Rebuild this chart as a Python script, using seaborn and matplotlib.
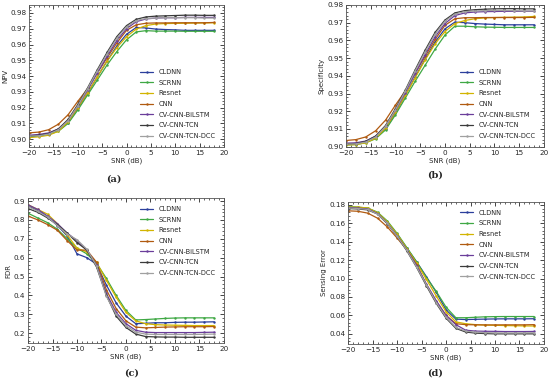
import numpy as np
import pandas as pd
import seaborn as sns
import matplotlib
matplotlib.use('Agg')
import matplotlib.pyplot as plt
from matplotlib.ticker import AutoMinorLocator

# data
snr = list(range(-20, 20, 2))
models = ['CLDNN', 'SCRNN', 'Resnet', 'CNN', 'CV-CNN-BiLSTM', 'CV-CNN-TCN', 'CV-CNN-TCN-DCC']
colors = ['#2b3f9c', '#3fa844', '#d2b400', '#b05a10', '#6a3d9a', '#3a3a3a', '#a0a0a0']

npv = {
    'CLDNN': [0.9020, 0.9025, 0.9035, 0.9055, 0.9105, 0.9195, 0.9290, 0.9395, 0.9495, 0.9590, 0.9665, 0.9708, 0.9705, 0.9698, 0.9695, 0.9693, 0.9690, 0.9690, 0.9690, 0.9690],
    'SCRNN': [0.9015, 0.9020, 0.9030, 0.9050, 0.9100, 0.9185, 0.9280, 0.9375, 0.9470, 0.9555, 0.9630, 0.9680, 0.9688, 0.9685, 0.9685, 0.9685, 0.9684, 0.9684, 0.9684, 0.9684],
    'Resnet': [0.9010, 0.9015, 0.9025, 0.9050, 0.9110, 0.9200, 0.9295, 0.9395, 0.9495, 0.9580, 0.9650, 0.9698, 0.9720, 0.9730, 0.9733, 0.9734, 0.9735, 0.9736, 0.9737, 0.9738],
    'CNN': [0.9040, 0.9045, 0.9060, 0.9095, 0.9155, 0.9240, 0.9320, 0.9420, 0.9515, 0.9610, 0.9690, 0.9725, 0.9735, 0.9737, 0.9737, 0.9738, 0.9738, 0.9738, 0.9738, 0.9740],
    'CV-CNN-BiLSTM': [0.9025, 0.9030, 0.9040, 0.9065, 0.9120, 0.9210, 0.9310, 0.9420, 0.9525, 0.9625, 0.9700, 0.9745, 0.9762, 0.9768, 0.9770, 0.9770, 0.9772, 0.9772, 0.9772, 0.9772],
    'CV-CNN-TCN': [0.9020, 0.9025, 0.9035, 0.9065, 0.9125, 0.9220, 0.9325, 0.9440, 0.9550, 0.9650, 0.9720, 0.9760, 0.9775, 0.9780, 0.9782, 0.9784, 0.9786, 0.9786, 0.9785, 0.9785],
    'CV-CNN-TCN-DCC': [0.9020, 0.9022, 0.9032, 0.9060, 0.9118, 0.9212, 0.9320, 0.9432, 0.9540, 0.9640, 0.9712, 0.9752, 0.9765, 0.9768, 0.9770, 0.9770, 0.9770, 0.9770, 0.9768, 0.9768],
}

spec = {
    'CLDNN': [0.9015, 0.9018, 0.9028, 0.9050, 0.9100, 0.9190, 0.9290, 0.9395, 0.9495, 0.9590, 0.9665, 0.9703, 0.9700, 0.9695, 0.9692, 0.9690, 0.9688, 0.9688, 0.9688, 0.9688],
    'SCRNN': [0.9010, 0.9012, 0.9022, 0.9045, 0.9095, 0.9180, 0.9275, 0.9370, 0.9460, 0.9550, 0.9630, 0.9680, 0.9680, 0.9677, 0.9675, 0.9674, 0.9673, 0.9673, 0.9673, 0.9673],
    'Resnet': [0.9010, 0.9012, 0.9022, 0.9048, 0.9105, 0.9195, 0.9290, 0.9390, 0.9490, 0.9580, 0.9650, 0.9695, 0.9712, 0.9722, 0.9727, 0.9729, 0.9730, 0.9731, 0.9732, 0.9735],
    'CNN': [0.9035, 0.9040, 0.9055, 0.9090, 0.9150, 0.9235, 0.9315, 0.9415, 0.9510, 0.9605, 0.9685, 0.9722, 0.9728, 0.9728, 0.9729, 0.9729, 0.9729, 0.9729, 0.9729, 0.9730],
    'CV-CNN-BiLSTM': [0.9020, 0.9022, 0.9032, 0.9060, 0.9115, 0.9205, 0.9305, 0.9415, 0.9520, 0.9620, 0.9695, 0.9740, 0.9755, 0.9760, 0.9762, 0.9763, 0.9764, 0.9764, 0.9764, 0.9764],
    'CV-CNN-TCN': [0.9015, 0.9018, 0.9030, 0.9060, 0.9120, 0.9215, 0.9320, 0.9435, 0.9545, 0.9645, 0.9715, 0.9755, 0.9768, 0.9773, 0.9776, 0.9778, 0.9779, 0.9779, 0.9778, 0.9778],
    'CV-CNN-TCN-DCC': [0.9015, 0.9016, 0.9026, 0.9055, 0.9115, 0.9208, 0.9315, 0.9428, 0.9535, 0.9635, 0.9708, 0.9748, 0.9762, 0.9766, 0.9768, 0.9769, 0.9769, 0.9768, 0.9766, 0.9766],
}

fdr = {
    'CLDNN': [0.875, 0.850, 0.815, 0.770, 0.715, 0.620, 0.600, 0.565, 0.455, 0.360, 0.290, 0.250, 0.252, 0.255, 0.255, 0.257, 0.258, 0.258, 0.259, 0.260],
    'SCRNN': [0.835, 0.810, 0.785, 0.750, 0.700, 0.650, 0.620, 0.570, 0.490, 0.400, 0.320, 0.270, 0.272, 0.275, 0.278, 0.280, 0.281, 0.281, 0.281, 0.281],
    'Resnet': [0.880, 0.855, 0.830, 0.780, 0.720, 0.650, 0.630, 0.575, 0.480, 0.390, 0.310, 0.265, 0.250, 0.245, 0.243, 0.242, 0.241, 0.240, 0.240, 0.240],
    'CNN': [0.820, 0.800, 0.775, 0.745, 0.690, 0.640, 0.640, 0.575, 0.430, 0.330, 0.265, 0.232, 0.228, 0.230, 0.232, 0.233, 0.234, 0.234, 0.234, 0.235],
    'CV-CNN-BiLSTM': [0.880, 0.855, 0.820, 0.780, 0.730, 0.690, 0.640, 0.560, 0.410, 0.310, 0.250, 0.215, 0.205, 0.203, 0.203, 0.203, 0.203, 0.203, 0.204, 0.205],
    'CV-CNN-TCN': [0.860, 0.840, 0.810, 0.775, 0.730, 0.680, 0.640, 0.550, 0.400, 0.290, 0.230, 0.195, 0.182, 0.180, 0.179, 0.179, 0.178, 0.178, 0.178, 0.178],
    'CV-CNN-TCN-DCC': [0.870, 0.845, 0.815, 0.770, 0.725, 0.695, 0.645, 0.555, 0.395, 0.300, 0.240, 0.205, 0.195, 0.193, 0.193, 0.193, 0.193, 0.193, 0.194, 0.195],
}

serr = {
    'CLDNN': [0.1775, 0.1770, 0.1760, 0.1710, 0.1610, 0.1480, 0.1330, 0.1180, 0.1020, 0.0850, 0.0660, 0.0560, 0.0555, 0.0558, 0.0560, 0.0562, 0.0563, 0.0563, 0.0563, 0.0564],
    'SCRNN': [0.1780, 0.1775, 0.1765, 0.1720, 0.1625, 0.1490, 0.1335, 0.1180, 0.1010, 0.0860, 0.0690, 0.0575, 0.0575, 0.0580, 0.0585, 0.0587, 0.0588, 0.0588, 0.0588, 0.0588],
    'Resnet': [0.1775, 0.1775, 0.1765, 0.1715, 0.1615, 0.1480, 0.1325, 0.1165, 0.0990, 0.0810, 0.0640, 0.0530, 0.0510, 0.0500, 0.0495, 0.0493, 0.0490, 0.0488, 0.0486, 0.0485],
    'CNN': [0.1735, 0.1730, 0.1710, 0.1655, 0.1560, 0.1440, 0.1310, 0.1150, 0.0930, 0.0750, 0.0600, 0.0510, 0.0500, 0.0498, 0.0497, 0.0497, 0.0498, 0.0498, 0.0498, 0.0500],
    'CV-CNN-BiLSTM': [0.1770, 0.1765, 0.1755, 0.1705, 0.1600, 0.1465, 0.1310, 0.1140, 0.0940, 0.0760, 0.0600, 0.0500, 0.0440, 0.0430, 0.0428, 0.0427, 0.0425, 0.0425, 0.0425, 0.0426],
    'CV-CNN-TCN': [0.1760, 0.1755, 0.1745, 0.1700, 0.1595, 0.1460, 0.1300, 0.1120, 0.0920, 0.0730, 0.0570, 0.0460, 0.0420, 0.0408, 0.0403, 0.0400, 0.0400, 0.0400, 0.0400, 0.0400],
    'CV-CNN-TCN-DCC': [0.1765, 0.1760, 0.1750, 0.1700, 0.1600, 0.1460, 0.1305, 0.1125, 0.0930, 0.0740, 0.0580, 0.0470, 0.0430, 0.0418, 0.0413, 0.0411, 0.0410, 0.0410, 0.0411, 0.0412],
}

sns.set_style('ticks')
plt.rcParams['font.family'] = ['DejaVu Sans']

def to_long(d, name):
    rows = []
    for m in models:
        for x, v in zip(snr, d[m]):
            rows.append({'SNR': x, name: v, 'Model': m})
    return pd.DataFrame(rows)

fig = plt.figure(figsize=(5.5, 3.8), dpi=100)

panels = [
    (npv, 'NPV', [0.053, 0.613, 0.354, 0.374], (0.895, 0.9851), np.arange(0.90, 0.981, 0.01), '{:.2f}', 'lower right', '(a)', (0.207, 0.516)),
    (spec, 'Specificity', [0.629, 0.613, 0.36, 0.374], (0.8998, 0.980), np.arange(0.90, 0.981, 0.01), '{:.2f}', 'lower right', '(b)', (0.791, 0.528)),
    (fdr, 'FDR', [0.051, 0.097, 0.356, 0.382], (0.147, 0.916), np.arange(0.2, 0.91, 0.1), '{:.1f}', 'upper right', '(c)', (0.24, 0.006)),
    (serr, 'Sensing Error', [0.633, 0.095, 0.356, 0.374], (0.0291, 0.1833), np.arange(0.04, 0.181, 0.02), '{:.2f}', 'upper right', '(d)', (0.791, 0.006)),
]

for d, name, pos, ylim, yticks, fmt, loc, tag, tagpos in panels:
    ax = fig.add_axes(pos)
    df = to_long(d, name)
    sns.lineplot(data=df, x='SNR', y=name, hue='Model', palette=colors,
                 marker='.', markersize=3.5, markeredgewidth=0, linewidth=0.9, ax=ax)
    ax.set_xlim(-20, 20)
    ax.set_ylim(*ylim)
    ax.set_xticks(range(-20, 21, 5))
    ax.set_yticks(yticks)
    ax.set_yticklabels([fmt.format(v) for v in yticks])
    ax.xaxis.set_minor_locator(AutoMinorLocator(5))
    ax.yaxis.set_minor_locator(AutoMinorLocator(5))
    ax.tick_params(which='both', direction='in', top=True, right=True, labelsize=5.2, pad=2)
    ax.tick_params(which='major', length=3, width=0.6)
    ax.tick_params(which='minor', length=1.5, width=0.5)
    for s in ax.spines.values():
        s.set_linewidth(0.6)
        s.set_color('#555555')
    ax.set_xlabel('SNR (dB)', fontsize=5, labelpad=1)
    ax.set_ylabel(name, fontsize=5, labelpad=1.5)
    ax.legend(loc=loc, frameon=False, fontsize=4.8, handlelength=2.0,
              labelspacing=0.7, borderaxespad=0.8)
    fig.text(tagpos[0], tagpos[1], tag, fontsize=7, family='DejaVu Serif',
             fontweight='bold', ha='center', va='bottom')

fig.savefig('out.png', dpi=100)
